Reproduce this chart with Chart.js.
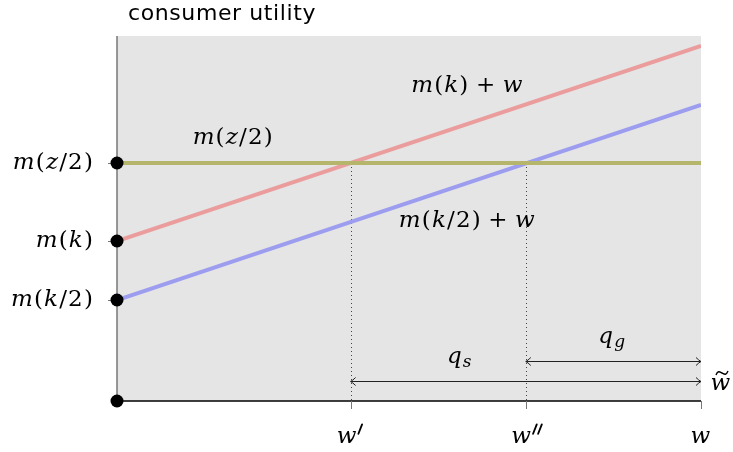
<!DOCTYPE html>
<html lang="en">
<head>
    <meta charset="UTF-8">
    <title>Consumer utility</title>
    <script src="https://cdn.jsdelivr.net/npm/chart.js"></script>
    <style>
        body { margin: 0; background: #fff; }
        #utilityChart { display: block; }
    </style>
</head>
<body>
    <canvas id="utilityChart" width="733" height="452"></canvas>
    <script>
        // Utility levels (left axis) and the two wage lines
        const levelLabels = ['m(z/2)', 'm(k)', 'm(k/2)'];
        const levelValues = [2.38, 1.6, 1.01];

        const wageRange = [0, 1];
        const highLine = [1.6, 3.55];   // m(k) + w
        const lowLine = [1.01, 2.96];   // m(k/2) + w
        const flatLine = [2.38, 2.38];  // m(z/2)

        // Thresholds on the horizontal axis
        const wageTickLabels = ["w'", "w''", 'w'];
        const wageTicks = [0.4, 0.7, 1];

        const gray = '#e5e5e5';
        const axisGray = '#777';
        const mathFamily = '"DejaVu Serif", "Liberation Serif", serif';

        // draw a small math string: letters italic, the rest upright, _x as subscript
        function drawMath(ctx, str, x, y, size, align) {
            const gap = size * 0.05;
            const parts = [];
            for (let i = 0; i < str.length; i++) {
                let ch = str[i];
                if (ch === '_') {
                    parts.push({ t: str[i + 1], it: true, sub: true });
                    i++;
                } else if (ch === '+') {
                    parts.push({ t: '+', it: false, pad: size * 0.28 });
                } else if (ch === "'") {
                    parts.push({ prime: true });
                } else {
                    parts.push({ t: ch, it: /[a-z]/.test(ch) });
                }
            }
            const fontOf = p => (p.it ? 'italic ' : '') + Math.round(p.sub ? size * 0.72 : size) + 'px ' + mathFamily;
            let total = 0;
            parts.forEach(p => {
                if (p.prime) {
                    p.w = size * 0.22;
                } else {
                    ctx.font = fontOf(p);
                    p.w = ctx.measureText(p.t).width + gap + 2 * (p.pad || 0);
                }
                total += p.w;
            });
            let cx = align === 'right' ? x - total : align === 'center' ? x - total / 2 : x;
            ctx.save();
            ctx.fillStyle = '#000';
            ctx.strokeStyle = '#000';
            ctx.textBaseline = 'middle';
            ctx.textAlign = 'left';
            parts.forEach(p => {
                if (p.prime) {
                    // slanted prime stroke
                    ctx.lineWidth = size * 0.08;
                    ctx.lineCap = 'round';
                    ctx.beginPath();
                    ctx.moveTo(cx + size * 0.04, y - size * 0.14);
                    ctx.lineTo(cx + size * 0.2, y - size * 0.55);
                    ctx.stroke();
                } else {
                    ctx.font = fontOf(p);
                    let dy = p.sub ? size * 0.25 : 0;
                    ctx.fillText(p.t, cx + (p.pad || 0), y + dy);
                }
                cx += p.w;
            });
            ctx.restore();
            return total;
        }

        function arrowHead(ctx, x, y, dir) {
            ctx.beginPath();
            ctx.moveTo(x - dir * 5, y - 4);
            ctx.quadraticCurveTo(x - dir * 2, y - 1, x, y);
            ctx.quadraticCurveTo(x - dir * 2, y + 1, x - dir * 5, y + 4);
            ctx.stroke();
        }

        const decorations = {
            id: 'decorations',
            beforeDatasetsDraw(chart) {
                const { ctx, chartArea: a, scales: { x, y } } = chart;
                ctx.save();
                ctx.fillStyle = gray;
                ctx.fillRect(a.left, a.top, a.right - a.left, a.bottom - a.top);

                // dotted drop lines at the crossings
                ctx.strokeStyle = '#444';
                ctx.lineWidth = 1;
                ctx.setLineDash([1, 3]);
                wageTicks.slice(0, 2).forEach(v => {
                    const px = Math.round(x.getPixelForValue(v)) + 0.5;
                    ctx.beginPath();
                    ctx.moveTo(px, y.getPixelForValue(levelValues[0]));
                    ctx.lineTo(px, a.bottom);
                    ctx.stroke();
                });
                ctx.setLineDash([]);

                // axes
                ctx.strokeStyle = axisGray;
                ctx.lineWidth = 1.5;
                ctx.beginPath();
                ctx.moveTo(a.left, a.top);
                ctx.lineTo(a.left, a.bottom);
                ctx.stroke();
                ctx.strokeStyle = '#000';
                ctx.beginPath();
                ctx.moveTo(a.left, a.bottom);
                ctx.lineTo(a.right, a.bottom);
                ctx.stroke();

                // tick marks
                ctx.strokeStyle = axisGray;
                ctx.lineWidth = 1;
                levelValues.forEach(v => {
                    const py = Math.round(y.getPixelForValue(v)) + 0.5;
                    ctx.beginPath();
                    ctx.moveTo(a.left - 9, py);
                    ctx.lineTo(a.left, py);
                    ctx.stroke();
                });
                wageTicks.forEach(v => {
                    const px = Math.round(x.getPixelForValue(v)) + 0.5;
                    ctx.beginPath();
                    ctx.moveTo(px, a.bottom);
                    ctx.lineTo(px, a.bottom + 8);
                    ctx.stroke();
                });
                ctx.restore();
            },
            afterDatasetsDraw(chart) {
                const { ctx, chartArea: a, scales: { x, y } } = chart;
                ctx.save();

                // span arrows q_s and q_g
                ctx.strokeStyle = '#222';
                ctx.lineWidth = 1;
                [[wageTicks[0], 0.2], [wageTicks[1], 0.4]].forEach(([from, lvl]) => {
                    const x0 = x.getPixelForValue(from);
                    const x1 = x.getPixelForValue(1);
                    const py = Math.round(y.getPixelForValue(lvl)) + 0.5;
                    ctx.beginPath();
                    ctx.moveTo(x0, py);
                    ctx.lineTo(x1, py);
                    ctx.stroke();
                    arrowHead(ctx, x0, py, -1);
                    arrowHead(ctx, x1, py, 1);
                });

                const size = 23;
                levelLabels.forEach((lab, i) => {
                    drawMath(ctx, lab, a.left - 23, y.getPixelForValue(levelValues[i]), size, 'right');
                });
                wageTickLabels.forEach((lab, i) => {
                    const pad = [-1, 1, 0][i];
                    drawMath(ctx, lab, x.getPixelForValue(wageTicks[i]) + pad, a.bottom + 36, size, 'center');
                });

                drawMath(ctx, 'm(z/2)', x.getPixelForValue(0.199), y.getPixelForValue(2.63), size, 'center');
                drawMath(ctx, 'm(k)+w', x.getPixelForValue(0.6), y.getPixelForValue(3.15), size, 'center');
                drawMath(ctx, 'm(k/2)+w', x.getPixelForValue(0.6), y.getPixelForValue(1.8), size, 'center');
                drawMath(ctx, 'q_s', x.getPixelForValue(0.587), y.getPixelForValue(0.44), size, 'center');
                drawMath(ctx, 'q_g', x.getPixelForValue(0.848), y.getPixelForValue(0.64), size, 'center');

                // w with tilde, right of the axis end
                const wx = a.right + 20, wy = y.getPixelForValue(0.2);
                drawMath(ctx, 'w', wx, wy + 3, size, 'center');
                ctx.strokeStyle = '#000';
                ctx.lineWidth = 1.4;
                ctx.beginPath();
                ctx.moveTo(wx - 5, wy - 6);
                ctx.bezierCurveTo(wx - 3, wy - 11, wx - 1, wy - 9, wx + 1, wy - 8);
                ctx.bezierCurveTo(wx + 3, wy - 7, wx + 5, wy - 5, wx + 7, wy - 10);
                ctx.stroke();

                // title
                ctx.fillStyle = '#000';
                ctx.font = '22px "DejaVu Sans", sans-serif';
                ctx.letterSpacing = '0.6px';
                ctx.textAlign = 'left';
                ctx.textBaseline = 'alphabetic';
                ctx.fillText('consumer utility', 128, 20);
                ctx.restore();
            }
        };

        const line = (data, color) => ({
            type: 'line',
            data: wageRange.map((w, i) => ({ x: w, y: data[i] })),
            borderColor: color,
            borderWidth: 4,
            pointRadius: 0,
            borderCapStyle: 'butt'
        });

        const ctx = document.getElementById('utilityChart').getContext('2d');
        const utilityChart = new Chart(ctx, {
            type: 'scatter',
            data: {
                datasets: [
                    line(flatLine, '#b5b56b'),
                    line(highLine, '#eb9c9c'),
                    line(lowLine, '#9d9df0'),
                    {
                        // markers on the utility axis, drawn above the lines
                        data: levelValues.concat([0]).map(v => ({ x: 0, y: v })),
                        pointRadius: 6.5,
                        pointBackgroundColor: '#000',
                        pointBorderWidth: 0,
                        order: -1,
                        clip: false
                    }
                ]
            },
            options: {
                responsive: false,
                animation: false,
                layout: { padding: { left: 117, right: 32, top: 36, bottom: 51 } },
                plugins: { legend: { display: false }, tooltip: { enabled: false } },
                scales: {
                    x: { type: 'linear', min: 0, max: 1, display: false },
                    y: { min: 0, max: 3.65, display: false }
                }
            },
            plugins: [decorations]
        });
    </script>
</body>
</html>
